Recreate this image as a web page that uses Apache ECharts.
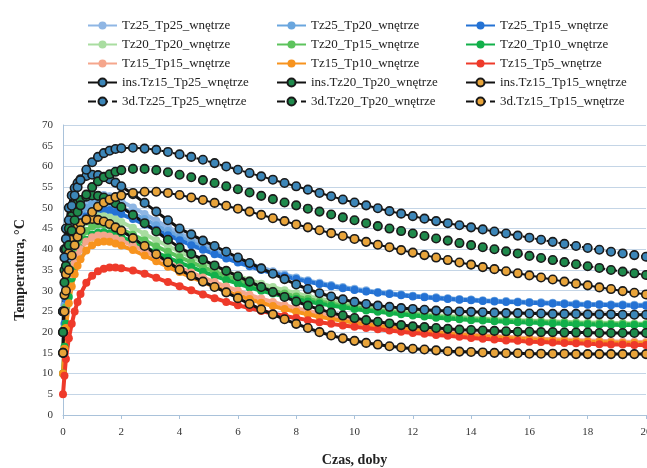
<!DOCTYPE html>
<html><head><meta charset="utf-8">
<script src="https://cdn.jsdelivr.net/npm/echarts@6/dist/echarts.min.js"></script>
<style>html,body{margin:0;padding:0;background:#fff}#c{width:647px;height:468px}</style>
</head><body><div id="c"></div>
<script>
// time axis (days)
const X = [0,0.05,0.1,0.2,0.3,0.4,0.5,0.6,0.8,1.0,1.2,1.4,1.6,1.8,2.0,
  2.4,2.8,3.2,3.6,4.0,4.4,4.8,5.2,5.6,6.0,
  6.4,6.8,7.2,7.6,8.0,8.4,8.8,9.2,9.6,10.0,
  10.4,10.8,11.2,11.6,12.0,12.4,12.8,13.2,13.6,14.0,
  14.4,14.8,15.2,15.6,16.0,16.4,16.8,17.2,17.6,18.0,
  18.4,18.8,19.2,19.6,20.0];

const tz25tp25 = [25,31,35.5,41,44.5,47,48.8,50.1,51.8,52.7,53.1,53.1,52.8,52.3,51.6,
  50.1,48.5,46.9,45.4,43.9,42.5,41.2,39.9,38.7,37.6,
  36.6,35.6,34.7,33.9,33.2,32.5,31.9,31.4,30.9,30.5,
  30.1,29.7,29.4,29.1,28.8,28.6,28.4,28.2,28,27.9,
  27.7,27.6,27.5,27.4,27.3,27.2,27.1,27,26.9,26.8,
  26.8,26.7,26.7,26.6,26.6];
const tz25tp20 = [20,26.5,31.5,38,42,44.8,46.7,48.1,50,51,51.4,51.4,51.1,50.6,50,
  48.7,47.3,45.8,44.4,43,41.7,40.5,39.3,38.2,37.2,
  36.2,35.3,34.4,33.7,33,32.3,31.7,31.2,30.7,30.3,
  29.9,29.6,29.3,29,28.7,28.5,28.3,28.1,27.9,27.8,
  27.6,27.5,27.4,27.3,27.2,27.1,27,26.9,26.8,26.7,
  26.7,26.6,26.6,26.5,26.5];
const tz25tp15 = [15,22,28,35,39.5,42.5,44.5,46,48,49,49.5,49.6,49.4,49,48.5,
  47.3,46,44.7,43.4,42.2,41,39.9,38.8,37.8,36.8,
  35.9,35,34.2,33.5,32.8,32.2,31.6,31.1,30.6,30.2,
  29.8,29.5,29.2,28.9,28.6,28.4,28.2,28,27.8,27.7,
  27.5,27.4,27.3,27.2,27.1,27,26.9,26.8,26.7,26.6,
  26.6,26.5,26.5,26.4,26.4];
const tz20tp20 = [20,25.5,30,35.5,39,41.6,43.4,44.8,46.6,47.6,48,48,47.7,47.2,46.6,
  45.2,43.7,42.2,40.8,39.4,38.1,36.9,35.7,34.6,33.6,
  32.6,31.7,30.9,30.1,29.4,28.7,28.1,27.5,27,26.5,
  26.1,25.7,25.3,25,24.7,24.4,24.1,23.9,23.7,23.5,
  23.3,23.2,23,22.9,22.8,22.7,22.6,22.5,22.4,22.3,
  22.3,22.2,22.2,22.1,22.1];
const tz20tp15 = [15,21,26,32,36,38.9,40.9,42.4,44.4,45.5,46,46,45.8,45.3,44.8,
  43.5,42.1,40.7,39.4,38.1,36.9,35.7,34.6,33.6,32.6,
  31.7,30.8,30,29.3,28.6,28,27.4,26.9,26.4,26,
  25.6,25.2,24.9,24.6,24.3,24.1,23.8,23.6,23.4,23.2,
  23.1,22.9,22.8,22.7,22.6,22.5,22.4,22.3,22.2,22.1,
  22.1,22,22,21.9,21.9];
const tz20tp10 = [10,16.5,22,28.5,33,36,38.3,40,42.3,43.5,44,44.1,43.9,43.5,43,
  41.8,40.5,39.2,38,36.8,35.7,34.6,33.6,32.6,31.7,
  30.8,30,29.3,28.6,28,27.4,26.9,26.4,26,25.6,
  25.2,24.9,24.6,24.3,24,23.8,23.5,23.3,23.1,22.9,
  22.8,22.6,22.5,22.4,22.3,22.2,22.1,22,21.9,21.9,
  21.8,21.8,21.7,21.7,21.7];
const tz15tp15 = [15,20.5,25,30.5,34,36.7,38.6,40,41.9,42.9,43.3,43.3,43.1,42.6,42.1,
  40.9,39.6,38.2,36.9,35.6,34.4,33.2,32.1,31,30,
  29,28.1,27.3,26.5,25.8,25.1,24.5,23.9,23.4,22.9,
  22.4,22,21.6,21.2,20.9,20.6,20.3,20,19.8,19.5,
  19.3,19.1,18.9,18.7,18.6,18.4,18.3,18.2,18.1,18,
  17.9,17.8,17.7,17.7,17.6];
const tz15tp10 = [10,16,21,27,31,34,36,37.6,39.7,41,41.7,41.9,41.8,41.4,40.9,
  39.8,38.5,37.1,35.8,34.5,33.3,32.1,31,29.9,28.9,
  28,27.1,26.3,25.6,24.9,24.3,23.7,23.2,22.7,22.3,
  21.9,21.5,21.1,20.8,20.5,20.2,19.9,19.7,19.4,19.2,
  19,18.8,18.6,18.4,18.3,18.1,18,17.9,17.8,17.7,
  17.6,17.5,17.4,17.4,17.3];
const tz15tp5 = [5,9.5,13.5,18.5,22,25,27.3,29.2,31.9,33.6,34.7,35.3,35.6,35.6,35.4,
  34.9,34.1,33.1,32.1,31.1,30.1,29.1,28.2,27.3,26.5,
  25.8,25.1,24.5,23.9,23.4,22.9,22.4,22,21.6,21.3,
  21,20.7,20.4,20.1,19.8,19.6,19.3,19.1,18.9,18.6,
  18.4,18.2,18,17.9,17.7,17.6,17.5,17.4,17.3,17.2,
  17.1,17,17,16.9,16.9];
const ins25 = [25,40,45,50,53,54.8,56,56.9,57.7,58,57.9,57.5,56.9,56.1,55.2,
  53.3,51.2,49.1,47,45,43.6,42.1,40.8,39.4,38,
  36.7,35.4,34.1,32.8,31.5,30.4,29.4,28.6,27.9,27.3,
  26.8,26.4,26.1,25.8,25.6,25.4,25.2,25.1,25,24.9,
  24.8,24.7,24.6,24.6,24.5,24.5,24.4,24.4,24.4,24.3,
  24.3,24.3,24.2,24.2,24.2];
const ins20 = [20,35,40,45,48,49.8,51,51.9,52.7,53,52.9,52.5,51.9,51.1,50.2,
  48.3,46.3,44.3,42.3,40.4,38.9,37.5,36.1,34.8,33.5,
  32.2,30.9,29.7,28.5,27.4,26.4,25.5,24.7,24,23.4,
  22.9,22.5,22.1,21.7,21.4,21.2,21,20.8,20.6,20.5,
  20.4,20.3,20.2,20.1,20.1,20,20,19.9,19.9,19.9,
  19.8,19.8,19.8,19.8,19.8];
const ins15 = [15,29,34,39,42.3,44.2,45.4,46.3,47.1,47.3,47.1,46.7,46.1,45.3,44.5,
  42.7,40.8,38.8,36.9,35.1,33.6,32.2,30.9,29.6,28.2,
  26.8,25.5,24.3,23.1,22,21,20,19.2,18.5,17.9,
  17.4,17,16.6,16.3,16,15.8,15.6,15.4,15.3,15.2,
  15.1,15,14.9,14.9,14.8,14.8,14.8,14.8,14.7,14.7,
  14.7,14.7,14.7,14.7,14.7];
const d25 = [25,38,42.5,47,50.5,53,55,56.7,59.2,61,62.3,63.2,63.8,64.2,64.4,
  64.5,64.3,64,63.5,62.9,62.3,61.6,60.8,60,59.2,
  58.4,57.6,56.8,56,55.2,54.4,53.6,52.8,52,51.3,
  50.6,49.9,49.2,48.6,48,47.4,46.8,46.3,45.8,45.3,
  44.8,44.3,43.8,43.3,42.8,42.3,41.8,41.3,40.8,40.3,
  39.9,39.4,39,38.6,38.2];
const d20 = [20,32,36,41,44.5,47,49,50.6,53.2,55,56.4,57.4,58.1,58.7,59.1,
  59.4,59.4,59.1,58.6,58,57.4,56.7,56,55.2,54.5,
  53.7,52.9,52.1,51.3,50.6,49.8,49.1,48.4,47.7,47,
  46.3,45.6,45,44.4,43.8,43.2,42.6,42.1,41.5,41,
  40.5,40,39.5,39,38.4,37.9,37.4,36.9,36.4,35.9,
  35.5,35,34.6,34.2,33.8];
const d15 = [15,25,30,35,38.5,41,43,44.6,47.2,49,50.3,51.3,52,52.6,53,
  53.6,53.9,53.9,53.6,53.1,52.5,51.9,51.2,50.5,49.8,
  49.1,48.3,47.5,46.8,46,45.3,44.6,43.9,43.2,42.5,
  41.8,41.1,40.5,39.8,39.2,38.6,38,37.4,36.8,36.3,
  35.7,35.2,34.7,34.2,33.7,33.2,32.7,32.2,31.7,31.3,
  30.8,30.4,29.9,29.5,29.1];

const names = ['Tz25_Tp25_wnętrze','Tz25_Tp20_wnętrze','Tz25_Tp15_wnętrze',
  'Tz20_Tp20_wnętrze','Tz20_Tp15_wnętrze','Tz20_Tp10_wnętrze',
  'Tz15_Tp15_wnętrze','Tz15_Tp10_wnętrze','Tz15_Tp5_wnętrze',
  'ins.Tz15_Tp25_wnętrze','ins.Tz20_Tp20_wnętrze','ins.Tz15_Tp15_wnętrze',
  '3d.Tz25_Tp25_wnętrze','3d.Tz20_Tp20_wnętrze','3d.Tz15_Tp15_wnętrze'];
const values = [tz25tp25,tz25tp20,tz25tp15,tz20tp20,tz20tp15,tz20tp10,tz15tp15,tz15tp10,tz15tp5,ins25,ins20,ins15,d25,d20,d15];
const colors = ['#8FB6E4','#6AA6DE','#2472D4','#A9DDA0','#5CC35C','#12B04A','#F5A68C','#F7931E','#EE3A2A',
  '#3C86B8','#1F8A4C','#E8A43A','#3C86B8','#1F8A4C','#E8A43A'];

const serif = 'Liberation Serif';
const series = values.map((v,i)=>{
  const data = X.map((x,j)=>[x,v[j]]);
  if (i < 9) {
    return {name:names[i], type:'line', data, symbol:'circle', symbolSize:8,
      itemStyle:{color:colors[i]}, lineStyle:{color:colors[i], width:4}};
  }
  const dashed = i >= 12;
  return {name:names[i], type:'line', data, symbol:'circle', symbolSize:8.5,
    itemStyle:{color:colors[i], borderColor:'#1a1a1a', borderWidth:1.6},
    lineStyle:{color:'#111', width: dashed?2:3, type: dashed?'dashed':'solid'}};
});

const legendCol = (idx, left) => ({
  orient:'vertical', left, top:13, itemWidth:29, itemHeight:10, itemGap:4,
  data:[0,3,6,9,12].map(k=>names[k+idx]),
  textStyle:{fontFamily:serif, fontSize:13, color:'#222', lineHeight:15}
});

const chart = echarts.init(document.getElementById('c'), null, {renderer:'canvas'});
chart.setOption({
  animation:false,
  backgroundColor:'#fff',
  legend:[legendCol(0,82), legendCol(1,271), legendCol(2,460)],
  grid:{left:63, right:1, top:125, bottom:53, outerBoundsMode:'none', containLabel:false},
  xAxis:{type:'value', min:0, max:20, interval:2,
    name:'Czas, doby', nameLocation:'middle', nameGap:38,
    nameTextStyle:{fontFamily:serif, fontSize:14, fontWeight:'bold', color:'#222'},
    axisLine:{lineStyle:{color:'#A9C2DA'}}, axisTick:{show:true, length:4, lineStyle:{color:'#A9C2DA'}},
    axisLabel:{fontFamily:serif, fontSize:11, color:'#333', margin:12, hideOverlap:false},
    splitLine:{show:false}},
  yAxis:{type:'value', min:0, max:70, interval:5,
    name:'Temperatura, °C', nameLocation:'middle', nameGap:36, nameRotate:90,
    nameTextStyle:{fontFamily:serif, fontSize:14, fontWeight:'bold', color:'#222'},
    axisLine:{show:true, lineStyle:{color:'#A9C2DA'}}, axisTick:{show:false},
    axisLabel:{fontFamily:serif, fontSize:11, color:'#333', margin:10},
    splitLine:{lineStyle:{color:'#C4D5E6', width:1.2}}},
  series
});
</script></body></html>
